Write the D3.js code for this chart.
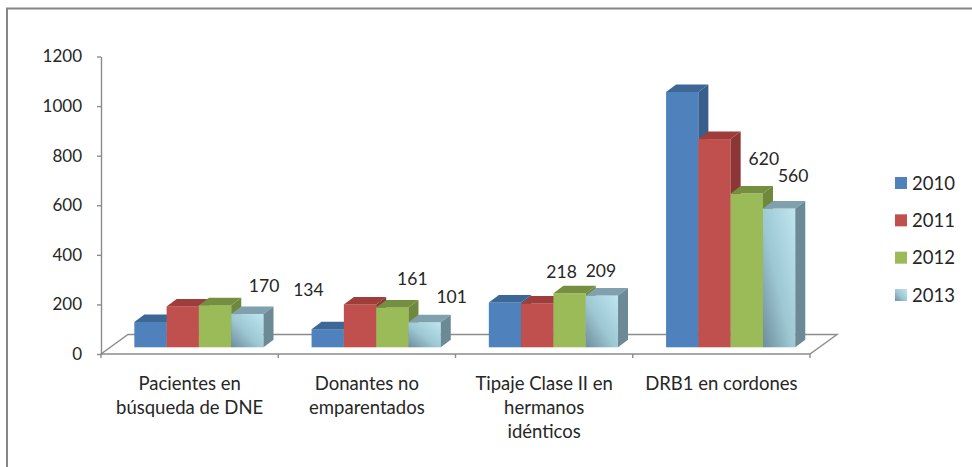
<!DOCTYPE html>
<html>
<head>
<meta charset="utf-8">
<script src="https://cdn.jsdelivr.net/npm/d3@7"></script>
<style>
  body { margin: 0; background: #fff; }
  svg { display: block; }
  text { font-family: Lato, "Open Sans", sans-serif; fill: #262626; }
</style>
</head>
<body>
<svg id="chart" width="972" height="467"></svg>
<script>
// ---- data ----
const categoryLines = [
  ["Pacientes en", "búsqueda de DNE"],
  ["Donantes no", "emparentados"],
  ["Tipaje Clase II en", "hermanos", "idénticos"],
  ["DRB1 en cordones"]
];
const years = ["2010", "2011", "2012", "2013"];
const values2010 = [102, 73, 181, 1030];
const values2011 = [165, 173, 177, 840];
const values2012 = [170, 161, 218, 620];
const values2013 = [134, 101, 209, 560];
const yTickValues = [0, 200, 400, 600, 800, 1000, 1200];
const labelledYears = ["2012", "2013"];

const seriesValues = { "2010": values2010, "2011": values2011, "2012": values2012, "2013": values2013 };

// ---- layout ----
const W = 972, H = 467;
const plot = { left: 101, right: 810, base: 354, top: 56.5 };
const floorDepth = { dx: 27, dy: -19.5 };    // depth of the floor plane
const barShift = { dx: 9.3, dy: -6.7 };      // bars sit a little way back on the floor
const barDepth = { dx: 10, dy: -7.5 };       // thickness of each column
const groupWidth = 129.2;

// hand-placed data label offsets (px) from the top centre of each column
const labelNudge = {
  "2012": [[49, -19], [20, -29], [-8, -22], [17, -35]],
  "2013": [[61, -24], [27, -26], [-1, -24.5], [14, -32.5]]
};

const palette = {
  "2010": { front: "#4F81BD", top: "#3C6797", side: "#385E8B" },
  "2011": { front: "#C0504D", top: "#9E3D3A", side: "#8C3735" },
  "2012": { front: "#9BBB59", top: "#758F40", side: "#6E883C" },
  "2013": { front: "url(#cyanFront)", top: "#7FA0AC", side: "#6C8A96" }
};

const svg = d3.select("#chart");
const defs = svg.append("defs");
const grad = defs.append("linearGradient").attr("id", "cyanFront")
  .attr("x1", 0).attr("y1", 1).attr("x2", 1).attr("y2", 0);
grad.append("stop").attr("offset", 0).attr("stop-color", "#6E8E9B");
grad.append("stop").attr("offset", 0.45).attr("stop-color", "#9CC7D3");
grad.append("stop").attr("offset", 1).attr("stop-color", "#BFE6F0");

// outer frame
svg.append("path")
  .attr("d", `M7,${H} L7,8.5 L${W},8.5`)
  .attr("fill", "none").attr("stroke", "#868686").attr("stroke-width", 2);

// ---- scales ----
const x0 = d3.scaleBand().domain(d3.range(categoryLines.length)).range([plot.left, plot.right]);
const x1 = d3.scaleBand().domain(years).range([0, groupWidth]);
const y = d3.scaleLinear().domain([0, 1200]).range([plot.base, plot.top]);
const groupOffset = (x0.bandwidth() - groupWidth) / 2 + barShift.dx;

const axisColor = "#8C8C8C";

// floor
const fl = plot.left, fr = plot.right, fb = plot.base;
svg.append("path")
  .attr("d", `M${fl},${fb} L${fr},${fb} L${fr + floorDepth.dx},${fb + floorDepth.dy} ` +
             `L${fl + floorDepth.dx},${fb + floorDepth.dy} Z`)
  .attr("fill", "none").attr("stroke", axisColor).attr("stroke-width", 1.4);

// category tick marks along the front edge
svg.append("g").selectAll("line")
  .data(d3.range(categoryLines.length + 1))
  .join("line")
  .attr("x1", i => i < categoryLines.length ? x0(i) : plot.right)
  .attr("x2", i => i < categoryLines.length ? x0(i) : plot.right)
  .attr("y1", fb).attr("y2", fb + 4)
  .attr("stroke", axisColor).attr("stroke-width", 1.4);

// value axis
const yAxis = d3.axisLeft(y).tickValues(yTickValues).tickFormat(d3.format("d"))
  .tickSize(4).tickSizeOuter(0).tickPadding(15);
const yg = svg.append("g").attr("transform", `translate(${plot.left},0)`).call(yAxis);
yg.select(".domain").attr("stroke", axisColor).attr("stroke-width", 1.4);
yg.selectAll(".tick line").attr("stroke", axisColor).attr("stroke-width", 1.4);
yg.selectAll(".tick text").attr("font-size", 17).attr("font-family", "Lato").attr("fill", "#262626");

// ---- 3D columns ----
const bars = svg.append("g");
categoryLines.forEach((_, i) => {
  years.forEach(yr => {
    const v = seriesValues[yr][i];
    const xL = x0(i) + groupOffset + x1(yr);
    const w = x1.bandwidth();
    const yB = y(0) + barShift.dy;
    const yT = y(v) + barShift.dy;
    const g = bars.append("g");
    const c = palette[yr];
    g.append("rect").attr("x", xL).attr("y", yT).attr("width", w).attr("height", yB - yT)
      .attr("fill", c.front);
    g.append("path")
      .attr("d", `M${xL},${yT} L${xL + w},${yT} L${xL + w + barDepth.dx},${yT + barDepth.dy} ` +
                 `L${xL + barDepth.dx},${yT + barDepth.dy} Z`)
      .attr("fill", c.top);
    g.append("path")
      .attr("d", `M${xL + w},${yT} L${xL + w + barDepth.dx},${yT + barDepth.dy} ` +
                 `L${xL + w + barDepth.dx},${yB + barDepth.dy} L${xL + w},${yB} Z`)
      .attr("fill", c.side);
  });
});

// data labels for the later years
const labels = svg.append("g").attr("font-size", 17.5).attr("text-anchor", "middle");
labelledYears.forEach(yr => {
  seriesValues[yr].forEach((v, i) => {
    const cx = x0(i) + groupOffset + x1(yr) + x1.bandwidth() / 2;
    const ty = y(v) + barShift.dy;
    const [dx, dy] = labelNudge[yr][i];
    labels.append("text")
      .attr("x", cx + dx).attr("y", ty + dy)
      .attr("dy", "0.36em")
      .text(v);
  });
});

// category labels
const cats = svg.append("g").attr("font-size", 18.5).attr("text-anchor", "middle");
categoryLines.forEach((lines, i) => {
  const cx = x0(i) + x0.bandwidth() / 2;
  lines.forEach((ln, k) => {
    cats.append("text").attr("x", cx).attr("y", 383 + k * 24).attr("dy", "0.36em").text(ln);
  });
});

// legend
const legendY = d3.scalePoint().domain(years).range([183, 295]);
const legend = svg.append("g").attr("font-size", 18.5);
years.forEach(yr => {
  const cy = legendY(yr);
  legend.append("rect").attr("x", 895).attr("y", cy - 6).attr("width", 12).attr("height", 12)
    .attr("fill", palette[yr].front);
  legend.append("text").attr("x", 912).attr("y", cy).attr("dy", "0.36em").text(yr);
});
</script>
</body>
</html>
